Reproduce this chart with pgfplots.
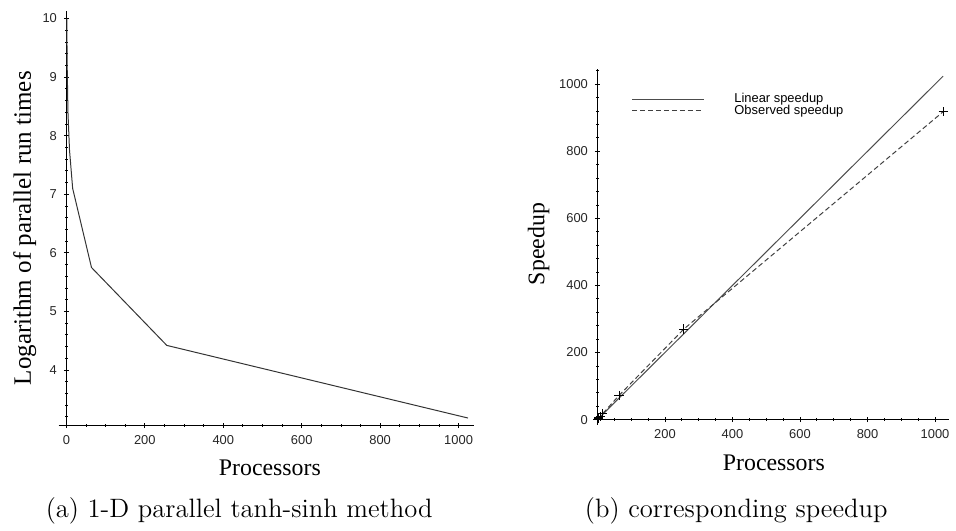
\documentclass[border=0pt]{standalone}
\usepackage{pgfplots}
\pgfplotsset{compat=1.18}
\usepackage{fontspec}
\newfontfamily\arialfont{Liberation Sans}
\newfontfamily\timesfont{Liberation Serif}

\pgfplotsset{
  maple/.style={
    scale only axis, clip=false,
    tick align=outside,
    major tick length=2.5pt, minor tick length=1.3pt,
    tick style={black, line width=0.4pt},
    axis line style={-, line width=0.5pt},
    every inner x axis line/.append style={-},
    every inner y axis line/.append style={-},
    every outer x axis line/.append style={-},
    every outer y axis line/.append style={-},
    ticklabel style={font=\arialfont\fontsize{6.5}{7}\selectfont, text=black!85},
    /pgf/number format/assume math mode=true,
    /pgf/number format/1000 sep={},
    hide obscured x ticks=false, hide obscured y ticks=false,
  }
}

\begin{document}
\begin{tikzpicture}
\path (0,0) rectangle (478pt,265.5pt);

% (a) log of run times
\begin{axis}[maple,
  at={(29.5pt,51pt)}, anchor=south west,
  width=209.5pt, height=209pt,
  xmin=-20, xmax=1040, ymin=3.05, ymax=10.13,
  axis x line=bottom, axis y line=middle,
  every inner y axis line/.append style={-},
  every outer x axis line/.append style={-},
  xtick={0,200,...,1000}, minor x tick num=3,
  ytick={4,5,...,10}, minor ytick={3.2,3.4,3.6,3.8,4.2,4.4,4.6,4.8,5.2,5.4,5.6,5.8,6.2,6.4,6.6,6.8,7.2,7.4,7.6,7.8,8.2,8.4,8.6,8.8,9.2,9.4,9.6,9.8},
]
\addplot[black!80, line width=0.5pt] coordinates {
  (1,10.0) (2,9.2) (4,8.4) (8,7.75) (16,7.1) (64,5.75) (256,4.42) (1024,3.18)
};
\end{axis}

% (b) speedup
\begin{axis}[maple,
  at={(299pt,51.5pt)}, anchor=south west,
  width=179pt, height=179pt,
  xmin=-12, xmax=1040, ymin=-15, ymax=1044,
  axis lines=middle,
  every inner x axis line/.append style={-},
  every inner y axis line/.append style={-},
  xtick={200,400,...,1000}, minor xtick={50,100,150,250,300,350,450,500,550,650,700,750,850,900,950,1000},
  ytick={0,200,...,1000}, minor ytick={40,80,120,160,240,280,320,360,440,480,520,560,640,680,720,760,840,880,920,960,1040},
  legend cell align=left,
  legend image code/.code={\draw[#1] (0pt,0pt) -- (36pt,0pt);},
  legend style={draw=none, fill=none,
    at={(axis description cs:0.09,0.95)}, anchor=north west,
    font=\arialfont\fontsize{6.5}{6.5}\selectfont,
    row sep=-2pt, nodes={inner sep=0.8pt},
    /tikz/every odd column/.style={column sep=14.5pt}},
]
\addplot[black!70, line width=0.5pt] coordinates {(1,1) (1024,1024)};
\addlegendentry{Linear speedup}
\addplot[black!75, line width=0.5pt, dash pattern=on 2.5pt off 1.5pt,
  mark=+, mark size=2.3pt, mark options={solid, black}] coordinates {
  (1,1) (2,2.2) (4,5) (8,9.5) (16,18.2) (64,72) (256,270) (1024,918)
};
\addlegendentry{Observed speedup}
\end{axis}

% labels
\node[rotate=90, font=\timesfont\fontsize{12.6}{14}\selectfont] at (12.5pt,150.5pt) {Logarithm of parallel run times};
\node[font=\timesfont\fontsize{12}{14}\selectfont] at (136pt,29.5pt) {Processors};
\node[rotate=90, font=\timesfont\fontsize{12}{14}\selectfont] at (271.5pt,142.5pt) {Speedup};
\node[font=\timesfont\fontsize{12}{14}\selectfont] at (390pt,32.5pt) {Processors};

% captions
\node[font=\fontspec{Latin Modern Roman}\fontsize{13.4}{16}\selectfont] at (120.5pt,8pt) {(a) 1-D parallel tanh-sinh method};
\node[font=\fontspec{Latin Modern Roman}\fontsize{13.4}{16}\selectfont] at (371pt,8pt) {(b) corresponding speedup};
\end{tikzpicture}
\end{document}
